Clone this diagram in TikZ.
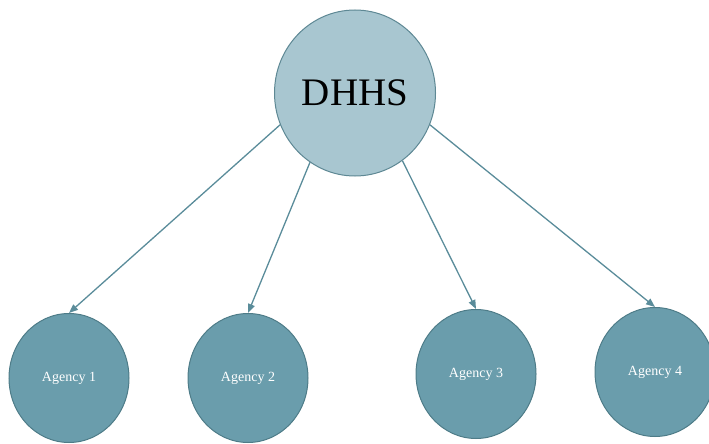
\documentclass[tikz,border=0pt]{standalone}
\usepackage{fontspec}
\setmainfont{Liberation Serif}
\usetikzlibrary{shapes.geometric,arrows.meta}
\definecolor{topfill}{HTML}{A8C6D0}
\definecolor{topline}{HTML}{5E8894}
\definecolor{agfill}{HTML}{6A9DAC}
\definecolor{agline}{HTML}{4E7C88}
\definecolor{arrcol}{HTML}{5A8C9A}
\begin{document}
\begin{tikzpicture}[x=1pt,y=-1pt,
  topnode/.style={ellipse,draw=topline,fill=topfill,line width=1pt,minimum width=161pt,minimum height=166pt,inner sep=0pt,font=\fontsize{39}{42}\selectfont,text=black},
  agnode/.style={ellipse,draw=agline,fill=agfill,line width=1pt,minimum width=120pt,minimum height=129pt,inner sep=0pt,font=\fontsize{14}{16}\selectfont,text=white},
  link/.style={draw=arrcol,line width=1.3pt,-{Triangle[length=9pt,width=7pt]}}]
\useasboundingbox (0,0) rectangle (709,444);
\node[topnode] (dhhs) at (355,93) {DHHS};
\node[agnode] (a1) at (69,378) {Agency 1};
\node[agnode] (a2) at (248,378) {Agency 2};
\node[agnode] (a3) at (476,374) {Agency 3};
\node[agnode] (a4) at (655,372) {Agency 4};
\draw[link] (dhhs.203) -- (a1.north);
\draw[link] (dhhs.237) -- (a2.north);
\draw[link] (dhhs.305) -- (a3.north);
\draw[link] (dhhs.337) -- (a4.north);
\end{tikzpicture}
\end{document}
